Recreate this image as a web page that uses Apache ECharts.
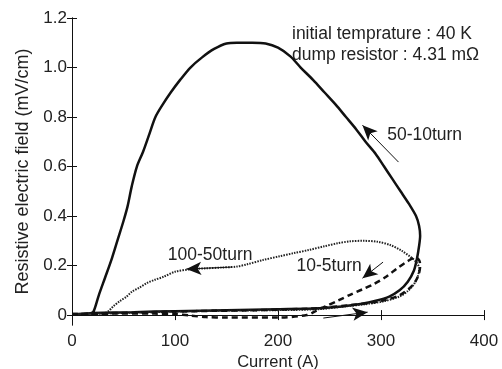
<!DOCTYPE html>
<html>
<head>
<meta charset="utf-8">
<script src="https://cdn.jsdelivr.net/npm/echarts@6/dist/echarts.min.js"></script>
<style>
  html, body { margin: 0; padding: 0; background: #fff; }
  #chart { width: 502px; height: 369px; }
</style>
</head>
<body>
<div id="chart"></div>
<script>
// 50-10turn (solid)
const solidI = [0, 10, 20, 60, 100, 150, 200, 240, 262, 280, 295, 308, 318, 326, 332, 335, 337, 338,
  337, 334, 327, 319, 311, 303, 295, 285, 276, 266, 256, 245, 234, 222, 212, 200, 188, 175, 160, 150,
  138, 126, 115, 105, 96, 88, 81, 75, 69, 63, 58, 54, 50, 44, 38, 32, 26, 21, 18, 0]
const solidE = [0.004, 0.005, 0.008, 0.012, 0.016, 0.02, 0.024, 0.028, 0.035, 0.045, 0.058, 0.075, 0.1, 0.135, 0.18, 0.23, 0.28, 0.32,
  0.36, 0.4, 0.45, 0.5, 0.55, 0.6, 0.65, 0.7, 0.75, 0.8, 0.85, 0.9, 0.95, 1.0, 1.045, 1.08, 1.097, 1.1, 1.1, 1.097,
  1.075, 1.04, 1.0, 0.95, 0.9, 0.85, 0.8, 0.73, 0.66, 0.6, 0.52, 0.44, 0.38, 0.3, 0.22, 0.15, 0.08, 0.015, 0.008, 0.004]

// 100-50turn (dotted)
const dotI = [0, 30, 60, 100, 150, 200, 240, 265, 285, 303, 318, 326, 332, 336, 337, 334, 329, 320, 309, 297,
  283, 270, 258, 245, 230, 215, 202, 185, 170, 160, 145, 130, 115, 100, 89, 80, 73, 65, 58, 53, 46, 40, 36, 33, 20, 0]
const dotE = [0.004, 0.006, 0.01, 0.014, 0.018, 0.02, 0.024, 0.035, 0.044, 0.056, 0.075, 0.097, 0.125, 0.16, 0.19, 0.215, 0.234, 0.26, 0.283, 0.296,
  0.3, 0.298, 0.29, 0.278, 0.263, 0.25, 0.238, 0.222, 0.205, 0.196, 0.192, 0.189, 0.185, 0.175, 0.155, 0.142, 0.13, 0.11, 0.094, 0.075, 0.055, 0.035, 0.018, 0.01, 0.006, 0.004]

// 10-5turn (dashed)
const dashI = [0, 40, 80, 100, 115, 130, 150, 200, 228, 236, 246, 258, 270, 282, 293, 305, 316, 326, 333, 337, 338,
  337, 334, 328, 318, 305, 290, 270, 250, 230, 180, 120, 60, 0]
const dashE = [0.004, 0.006, 0.006, 0.004, -0.002, -0.008, -0.01, -0.01, 0.0, 0.015, 0.035, 0.058, 0.082, 0.104, 0.125, 0.155, 0.19, 0.218, 0.232, 0.222, 0.2,
  0.17, 0.14, 0.11, 0.08, 0.062, 0.05, 0.04, 0.032, 0.026, 0.02, 0.016, 0.01, 0.004]

const yTicks = [0, 0.2, 0.4, 0.6, 0.8, 1.0, 1.2]

// arrows: [tailI, tailE, headI, headE]
const arrows = [
  [317, 0.618, 282, 0.767],
  [155, 0.194, 111, 0.186],
  [302, 0.214, 282, 0.149],
  [244, -0.012, 287, 0.012]
]

// curve labels: [text, I, E]
const curveLabels = [
  ['50-10turn', 306, 0.726],
  ['100-50turn', 93, 0.242],
  ['10-5turn', 218, 0.196]
]

const zip = (a, b) => a.map((v, i) => [v, b[i]])
const ink = '#111'
const font = 'Liberation Sans, Arial, Helvetica, sans-serif'

const chart = echarts.init(document.getElementById('chart'))

const tick = { show: true, inside: true, length: 5, lineStyle: { color: ink, width: 1 } }
const line = { show: true, lineStyle: { color: ink, width: 1 } }

chart.setOption({
  animation: false,
  textStyle: { fontFamily: font },
  grid: { left: 72, right: 18, top: 18, bottom: 44, outerBoundsMode: 'none', containLabel: false },
  xAxis: [
    {
      type: 'value', min: 0, max: 400, interval: 100, position: 'bottom',
      axisLine: line, axisTick: tick, splitLine: { show: false },
      axisLabel: { fontSize: 17, color: '#222', margin: 8 },
      name: 'Current (A)', nameLocation: 'middle', nameGap: 29, nameMoveOverlap: false,
      nameTextStyle: { fontSize: 16.5, color: '#222' }
    },
    {
      type: 'value', min: 0, max: 400, interval: 100, position: 'top',
      axisLine: line, axisTick: tick, splitLine: { show: false }, axisLabel: { show: false }
    }
  ],
  yAxis: [
    {
      type: 'value', min: -0.04, max: 1.2, position: 'left',
      axisLine: line,
      axisTick: Object.assign({ customValues: yTicks }, tick),
      splitLine: { show: false },
      axisLabel: {
        customValues: yTicks, fontSize: 17, color: '#222', margin: 5,
        formatter: v => v === 0 ? '0' : v.toFixed(1)
      },
      name: 'Resistive electric field (mV/cm)', nameLocation: 'middle', nameGap: 38,
      nameTextStyle: { fontSize: 18, color: '#222' }
    },
    {
      type: 'value', min: -0.04, max: 1.2, position: 'right',
      axisLine: line,
      axisTick: Object.assign({ customValues: yTicks }, tick),
      splitLine: { show: false }, axisLabel: { show: false }
    }
  ],
  graphic: [
    {
      type: 'text', left: 292, top: 24,
      style: {
        text: 'initial temprature : 40 K\ndump resistor : 4.31 m\u03A9',
        font: '17.5px ' + font, fill: '#222', lineHeight: 21
      }
    }
  ],
  series: [
    {
      name: '50-10turn', type: 'line', data: zip(solidI, solidE),
      showSymbol: false, smooth: 0.3, clip: false,
      lineStyle: { color: ink, width: 2.5 },
      markLine: {
        silent: true, symbol: ['none', 'arrow'], symbolSize: [10, 15],
        label: { show: false },
        lineStyle: { color: ink, width: 1, type: 'solid' },
        data: arrows.map(a => [{ coord: [a[0], a[1]] }, { coord: [a[2], a[3]] }])
      },
      markPoint: {
        silent: true, symbol: 'circle', symbolSize: 0,
        label: {
          show: true, position: 'right', distance: 0,
          fontSize: 17.5, color: '#222', formatter: p => p.name
        },
        data: curveLabels.map(l => ({ name: l[0], coord: [l[1], l[2]] }))
      }
    },
    {
      name: '100-50turn', type: 'line', data: zip(dotI, dotE),
      showSymbol: false, smooth: 0.3,
      lineStyle: { color: '#222', width: 2, type: [1.5, 1.2] }
    },
    {
      name: '10-5turn', type: 'line', data: zip(dashI, dashE),
      showSymbol: false, smooth: 0.3,
      lineStyle: { color: ink, width: 2.5, type: [6, 4] }
    }
  ]
})
</script>
</body>
</html>
